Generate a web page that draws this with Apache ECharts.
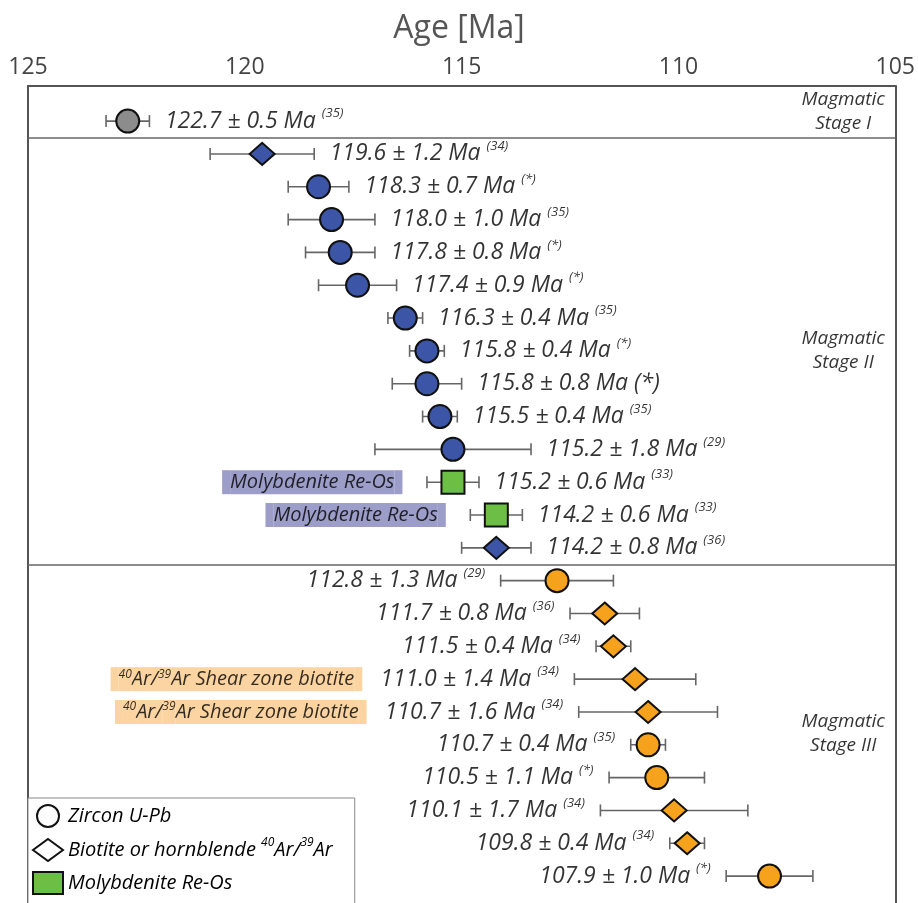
<!DOCTYPE html>
<html><head><meta charset="utf-8">
<script src="https://cdn.jsdelivr.net/npm/echarts@6/dist/echarts.min.js"></script>
<style>html,body{margin:0;padding:0;background:#fff}#c{width:918px;height:903px}</style>
</head><body><div id="c"></div>
<script>
// ---- data ----
const ages = [122.7,119.6,118.3,118.0,117.8,117.4,116.3,115.8,115.8,115.5,115.2,115.2,114.2,114.2,112.8,111.7,111.5,111.0,110.7,110.7,110.5,110.1,109.8,107.9];
const errors = [0.5,1.2,0.7,1.0,0.8,0.9,0.4,0.4,0.8,0.4,1.8,0.6,0.6,0.8,1.3,0.8,0.4,1.4,1.6,0.4,1.1,1.7,0.4,1.0];
const refs = ['35','34','*','35','*','*','35','*','*','35','29','33','33','36','29','36','34','34','34','35','*','34','34','*'];
const inlineRefRows = [8];
const methods = ['zircon','biotite','zircon','zircon','zircon','zircon','zircon','zircon','zircon','zircon','zircon','moly','moly','biotite','zircon','biotite','biotite','biotite','biotite','zircon','zircon','biotite','biotite','zircon'];
const stages = [1,2,2,2,2,2,2,2,2,2,2,2,2,2,3,3,3,3,3,3,3,3,3,3];
const labelSides = ['right','right','right','right','right','right','right','right','right','right','right','right','right','right','left','left','left','left','left','left','left','left','left','left'];
const annotationRows = [11,12,17,18];
const annotationTexts = ['Molybdenite Re-Os','Molybdenite Re-Os','40Ar/39Ar Shear zone biotite','40Ar/39Ar Shear zone biotite'];
const stageNames = ['Magmatic\nStage I','Magmatic\nStage II','Magmatic\nStage III'];
const xTicks = [125,120,115,110,105];
const legendNames = {zircon:'Zircon U-Pb', biotite:'Biotite or hornblende 40Ar/39Ar', moly:'Molybdenite Re-Os'};

// ---- styles ----
const F = '"Open Sans", "DejaVu Sans", sans-serif';
const TXT = '#000000';
const stageColors = {1:'#8c8c8c', 2:'#3d55a6', 3:'#f7a21c'};
const molyColor = '#6cbe45';
const boxColors = {'Molybdenite Re-Os':'#8484bc', '40Ar/39Ar Shear zone biotite':'#fbc98b'};
const symbols = {zircon:{symbol:'circle', size:23}, biotite:{symbol:'diamond', size:[25,22]}, moly:{symbol:'rect', size:23}};
const yMin = -1.07, yMax = 23.82;
const stageLabelAge = 106.2;

const rich = {
  v:{fontFamily:F, fontSize:23, fontStyle:'italic', color:TXT, lineHeight:28},
  s:{fontFamily:F, fontSize:13, fontStyle:'italic', color:TXT, lineHeight:15, verticalAlign:'top'},
  gap:{width:18, height:24}
};
const boxKey = {};
Object.keys(boxColors).forEach((k, j) => {
  const c = boxColors[k]; boxKey[k] = 'k' + j;
  rich['b' + j] = {fontFamily:F, fontSize:20, fontStyle:'italic', color:TXT, backgroundColor:c, height:24};
  rich['bs' + j] = {fontFamily:F, fontSize:12, fontStyle:'italic', color:TXT, backgroundColor:c, height:14, padding:[0,0,10,0]};
  rich['bp' + j] = {backgroundColor:c, width:8, height:24};
});
function boxRich(text) {
  const j = boxKey[text].slice(1);
  const parts = text.split(/(40|39)(?=Ar)/);
  let s = `{bp${j}| }`;
  parts.forEach(p => { if (!p) return; s += (p === '40' || p === '39') ? `{bs${j}|${p}}` : `{b${j}|${p}}`; });
  return s + `{bp${j}| }`;
}
function valueRich(i) {
  let s = `{v|${ages[i].toFixed(1)} ± ${errors[i].toFixed(1)} Ma }`;
  s += inlineRefRows.includes(i) ? `{v|(${refs[i]})}` : `{s|(${refs[i]})}`;
  const a = annotationRows.indexOf(i);
  if (a >= 0 && labelSides[i] === 'left') s = boxRich(annotationTexts[a]) + '{gap| }' + s;
  return s;
}

// ---- series ----
const errData = ages.map((a, i) => [a, errors[i], i]);
const markerSeries = Object.keys(legendNames).map(m => ({
  name: legendNames[m], type:'scatter', z:4,
  symbol: symbols[m].symbol, symbolSize: symbols[m].size,
  itemStyle:{color: m === 'moly' ? molyColor : '#ffffff', borderColor:'#111', borderWidth:2, opacity:1},
  emphasis:{disabled:true},
  data: ages.map((a, i) => methods[i] === m ? {value:[a, i], itemStyle:{color: m === 'moly' ? molyColor : stageColors[stages[i]]}} : null).filter(d => d)
}));
const labelData = ages.map((a, i) => ({
  value:[labelSides[i] === 'right' ? a - errors[i] : a + errors[i], i, i],
  label:{position: labelSides[i], distance:15}
}));
const annData = annotationRows.map((r, j) => labelSides[r] === 'right' ? {value:[ages[r] + errors[r], r, j], label:{position:'left', distance:24}} : null).filter(d => d);

// stage boundaries
const bounds = [];
for (let i = 1; i < stages.length; i++) if (stages[i] !== stages[i-1]) bounds.push(i - 0.5);
const edges = [yMin].concat(bounds, [yMax]);
const stageData = stageNames.map((n, k) => ({value:[stageLabelAge, (edges[k] + edges[k+1]) / 2, k]}));

const option = {
  animation:false,
  backgroundColor:'#fff',
  title:{text:'Age [Ma]', left:'center', top:8, textStyle:{fontFamily:F, fontSize:32, fontWeight:'normal', color:'#555'}},
  grid:{left:28, right:19, top:86, bottom:0, containLabel:false},
  xAxis:{type:'value', position:'top', inverse:true, min:Math.min(...xTicks), max:Math.max(...xTicks), interval:5,
    axisLine:{show:true, onZero:false, lineStyle:{color:'#555', width:2}}, axisTick:{show:false}, splitLine:{show:false},
    axisLabel:{fontFamily:F, fontSize:23, color:'#444', margin:7, showMinLabel:true, showMaxLabel:true}},
  yAxis:[
    {type:'value', inverse:true, min:yMin, max:yMax, axisLine:{show:true, onZero:false, lineStyle:{color:'#555', width:2}}, axisTick:{show:false}, axisLabel:{show:false}, splitLine:{show:false}},
    {type:'value', position:'right', inverse:true, min:yMin, max:yMax, axisLine:{show:true, onZero:false, lineStyle:{color:'#555', width:2}}, axisTick:{show:false}, axisLabel:{show:false}, splitLine:{show:false}}
  ],
  legend:{orient:'vertical', left:28, top:798, height:110, itemWidth:30, itemHeight:22, itemGap:9, padding:[6,22,30,4],
    borderColor:'#888', borderWidth:1, backgroundColor:'#fff', selectedMode:false, z:10,
    data: Object.values(legendNames),
    formatter: name => {
      const parts = name.split(/(40|39)(?=Ar)/);
      return parts.filter(p => p).map(p => (p === '40' || p === '39') ? `{s|${p}}` : `{t|${p}}`).join('');
    },
    textStyle:{fontFamily:F, fontSize:20, fontStyle:'italic', color:TXT,
      rich:{t:{fontFamily:F, fontSize:20, fontStyle:'italic', color:TXT, lineHeight:26}, s:{fontFamily:F, fontSize:12, fontStyle:'italic', color:TXT, lineHeight:14, verticalAlign:'top'}}}
  },
  series:[
    {type:'custom', name:'err', z:2, data:errData, encode:{x:0, y:2},
      renderItem:(params, api) => {
        const a = api.value(0), e = api.value(1), r = api.value(2);
        const p1 = api.coord([a + e, r]), p2 = api.coord([a - e, r]);
        const st = {stroke:'#666', lineWidth:1.6};
        const h = 6;
        return {type:'group', children:[
          {type:'line', shape:{x1:p1[0], y1:p1[1], x2:p2[0], y2:p2[1]}, style:st},
          {type:'line', shape:{x1:p1[0], y1:p1[1]-h, x2:p1[0], y2:p1[1]+h}, style:st},
          {type:'line', shape:{x1:p2[0], y1:p2[1]-h, x2:p2[0], y2:p2[1]+h}, style:st}
        ]};
      },
      markLine:{silent:true, symbol:'none', label:{show:false}, lineStyle:{color:'#666', width:1.5, type:'solid'},
        data: bounds.map(b => ({yAxis:b}))}
    },
    ...markerSeries,
    {type:'scatter', name:'labels', z:5, symbolSize:1, itemStyle:{color:'transparent'}, emphasis:{disabled:true}, data:labelData,
      label:{show:true, formatter:p => valueRich(p.value[2]), rich:rich}},
    {type:'scatter', name:'ann', z:5, symbolSize:1, itemStyle:{color:'transparent'}, emphasis:{disabled:true}, data:annData,
      label:{show:true, formatter:p => boxRich(annotationTexts[p.value[2]]), rich:rich}},
    {type:'scatter', name:'stages', z:5, symbolSize:1, itemStyle:{color:'transparent'}, emphasis:{disabled:true}, data:stageData,
      label:{show:true, position:'inside', formatter:p => stageNames[p.value[2]], fontFamily:F, fontSize:19, fontStyle:'italic', color:TXT, lineHeight:24, align:'center'}}
  ]
};
const chart = echarts.init(document.getElementById('c'), null, {renderer:'canvas'});
chart.setOption(option);
</script></body></html>
